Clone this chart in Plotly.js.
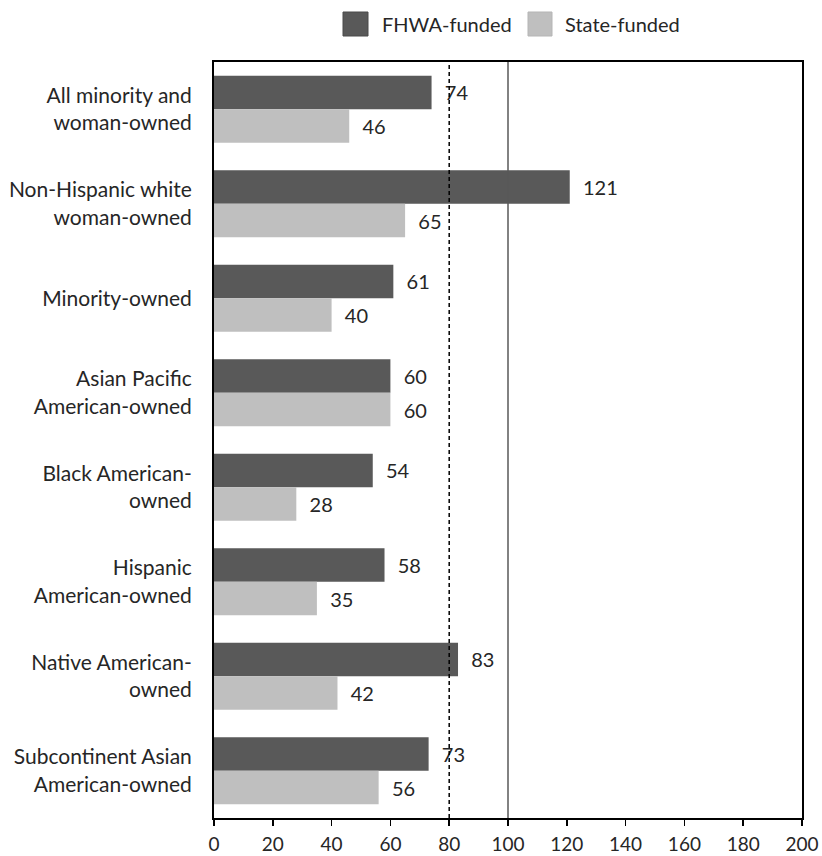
<!DOCTYPE html>
<html>
<head>
<meta charset="utf-8">
<script src="https://cdn.plot.ly/plotly-3.0.1.min.js"></script>
<style>html,body{margin:0;padding:0;background:#fff;}</style>
</head>
<body>
<div id="chart" style="width:822px;height:856px;"></div>
<script>
const categories = [
  "All minority and<br>woman-owned",
  "Non-Hispanic white<br>woman-owned",
  "Minority-owned",
  "Asian Pacific<br>American-owned",
  "Black American-<br>owned",
  "Hispanic<br>American-owned",
  "Native American-<br>owned",
  "Subcontinent Asian<br>American-owned"
];
const fhwaFunded = [74, 121, 61, 60, 54, 58, 83, 73];
const stateFunded = [46, 65, 40, 60, 28, 35, 42, 56];
const seriesNames = ["FHWA-funded", "State-funded"];
const xTicks = [0, 20, 40, 60, 80, 100, 120, 140, 160, 180, 200];
const referenceLines = [80, 100];

const FONT = "Lato, 'Open Sans', sans-serif";
const dark = "#595959", light = "#bfbfbf", txt = "#262626";

const mk = (vals, name, color) => ({
  type: "bar", orientation: "h", name: name,
  y: categories, x: vals,
  marker: {color: color, line: {color: color, width: 0}},
  text: vals.map(v => "\u00a0\u00a0" + v), textposition: "outside",
  textfont: {family: FONT, size: 20, color: txt},
  cliponaxis: false, hoverinfo: "x+name"
});

const data = [mk(fhwaFunded, seriesNames[0], dark), mk(stateFunded, seriesNames[1], light)];

const L = 214, T = 62, PW = 588, PH = 756;
const px = v => (v - L) / PW;
const py = v => (T + PH - v) / PH;

const shapes = [
  {type: "line", xref: "x", yref: "paper", x0: referenceLines[0], x1: referenceLines[0], y0: 0, y1: 1,
   line: {color: "#000", width: 1.5, dash: "4px,3px"}, layer: "above"},
  {type: "line", xref: "x", yref: "paper", x0: referenceLines[1], x1: referenceLines[1], y0: 0, y1: 1,
   line: {color: "#595959", width: 1.5}, layer: "above"},
  {type: "rect", xref: "paper", yref: "paper", x0: px(343), x1: px(368), y0: py(36), y1: py(12),
   fillcolor: dark, line: {color: "#4a4a4a", width: 1}},
  {type: "rect", xref: "paper", yref: "paper", x0: px(528), x1: px(552), y0: py(36), y1: py(12),
   fillcolor: light, line: {color: "#b5b5b5", width: 1}}
];

const annotations = [
  {xref: "paper", yref: "paper", x: px(380), y: py(24), xanchor: "left", yanchor: "middle",
   text: seriesNames[0], showarrow: false, font: {family: FONT, size: 20, color: txt}},
  {xref: "paper", yref: "paper", x: px(563), y: py(24), xanchor: "left", yanchor: "middle",
   text: seriesNames[1], showarrow: false, font: {family: FONT, size: 20, color: txt}}
];

const layout = {
  width: 822, height: 856,
  margin: {l: L, r: 822 - L - PW, t: T, b: 856 - T - PH, pad: 0},
  paper_bgcolor: "#fff", plot_bgcolor: "#fff",
  barmode: "group", bargap: 0.29, bargroupgap: 0,
  showlegend: false,
  font: {family: FONT, size: 19, color: txt},
  xaxis: {
    range: [0, 200], tickvals: xTicks, ticktext: xTicks.map(String),
    ticks: "outside", ticklen: 6, tickwidth: 1.5, tickcolor: "#000",
    showline: true, linecolor: "#000", linewidth: 2, mirror: true,
    showgrid: false, zeroline: false, ticklabelstandoff: 2,
    tickfont: {family: FONT, size: 19, color: txt}, fixedrange: true
  },
  yaxis: {
    type: "category", range: [categories.length - 0.5, -0.5],
    showline: true, linecolor: "#000", linewidth: 2, mirror: true,
    ticks: "", showgrid: false, zeroline: false, ticklabelstandoff: 16,
    tickfont: {family: FONT, size: 21, color: txt}, fixedrange: true
  },
  shapes: shapes,
  annotations: annotations
};

Plotly.newPlot("chart", data, layout, {displayModeBar: false, staticPlot: true});
</script>
</body>
</html>
